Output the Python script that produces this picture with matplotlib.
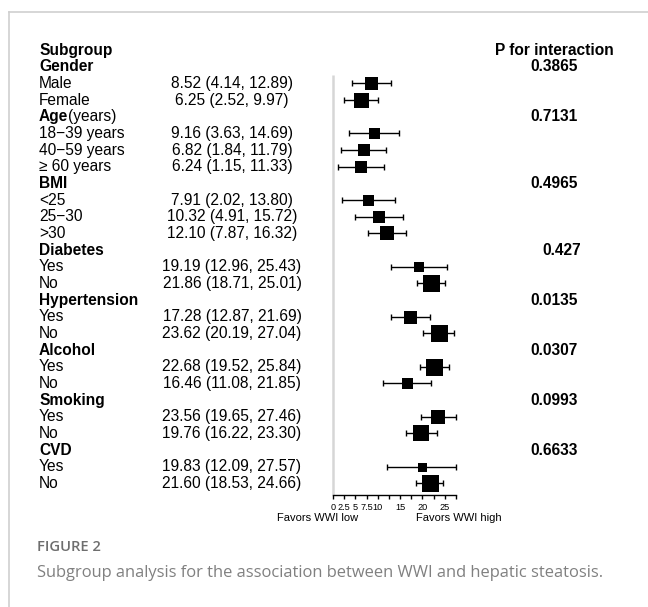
import matplotlib
matplotlib.use("Agg")
import matplotlib.pyplot as plt
import matplotlib.transforms as mtransforms
from matplotlib.lines import Line2D

# ---- data -------------------------------------------------------------
groups = ["Gender", "Age", "BMI", "Diabetes", "Hypertension", "Alcohol", "Smoking", "CVD"]
group_suffix = ["", "(years)", "", "", "", "", "", ""]
p_interaction = ["0.3865", "0.7131", "0.4965", "0.427", "0.0135", "0.0307", "0.0993", "0.6633"]

subgroups = [
    ["Male", "Female"],
    ["18\u221239 years", "40\u221259 years", "\u2265 60 years"],
    ["<25", "25\u221230", ">30"],
    ["Yes", "No"],
    ["Yes", "No"],
    ["Yes", "No"],
    ["Yes", "No"],
    ["Yes", "No"],
]
estimate = [
    [8.52, 6.25],
    [9.16, 6.82, 6.24],
    [7.91, 10.32, 12.10],
    [19.19, 21.86],
    [17.28, 23.62],
    [22.68, 16.46],
    [23.56, 19.76],
    [19.83, 21.60],
]
lower = [
    [4.14, 2.52],
    [3.63, 1.84, 1.15],
    [2.02, 4.91, 7.87],
    [12.96, 18.71],
    [12.87, 20.19],
    [19.52, 11.08],
    [19.65, 16.22],
    [12.09, 18.53],
]
upper = [
    [12.89, 9.97],
    [14.69, 11.79, 11.33],
    [13.80, 15.72, 16.32],
    [25.43, 25.01],
    [21.69, 27.04],
    [25.84, 21.85],
    [27.46, 23.30],
    [27.57, 24.66],
]
# relative box weights
weight = [
    [13, 15],
    [11, 12, 12],
    [11, 12, 14],
    [10, 17],
    [13, 17],
    [17, 11],
    [14, 16],
    [9, 17],
]
tick_values = [0, 2.5, 5, 7.5, 10, 12.5, 15, 17.5, 20, 22.5, 25, 27.5]
tick_labels = ["0", "2.5", "5", "7.5", "10", "", "15", "", "20", "", "25", ""]

# ---- layout -----------------------------------------------------------
W, H = 648, 607
DPI = 100
FONT = ["Liberation Sans", "DejaVu Sans"]
fig = plt.figure(figsize=(W / DPI, H / DPI), dpi=DPI)
fig.patch.set_facecolor("white")

row0_px, step_px = 50.0, 16.67     # y of header row, spacing between rows
axis_px = 495.0                     # y of x-axis line
x0_px, x1_px = 333.0, 456.0         # x range of plot panel

top_r = -0.5
bot_r = (axis_px - row0_px) / step_px
top_px = row0_px + top_r * step_px
ax = fig.add_axes([x0_px / W, 1 - axis_px / H, (x1_px - x0_px) / W, (axis_px - top_px) / H])
ax.set_xlim(0, 27.5)
ax.set_ylim(bot_r, top_r)
for s in ("top", "right", "left"):
    ax.spines[s].set_visible(False)
ax.spines["bottom"].set_linewidth(1.0)
ax.set_yticks([])
ax.set_xticks(tick_values)
ax.set_xticklabels(tick_labels, fontsize=6.6, family=FONT)
ax.tick_params(axis="x", direction="out", length=3.2, width=1.0, pad=2.5)
ax.patch.set_alpha(0)

tx = mtransforms.blended_transform_factory(fig.transFigure, ax.transData)

def put(xpx, r, s, **kw):
    kw.setdefault("family", FONT)
    kw.setdefault("fontsize", 11.2)
    kw.setdefault("va", "center")
    return fig.text(xpx / W, r, s, transform=tx, **kw)

label_x, value_x, p_x = 39, 232, 554

put(label_x, 0, "Subgroup", fontweight="bold")
put(p_x, 0, "P for interaction", fontweight="bold", ha="center")

# reference line at zero
ax.vlines(0, 1.5, bot_r, color="#d6d6d6", lw=1.8, zorder=0, clip_on=False)

renderer = fig.canvas.get_renderer()
r = 1
for g, suf, pv, subs, est, lo, hi, wt in zip(groups, group_suffix, p_interaction,
                                             subgroups, estimate, lower, upper, weight):
    t = put(label_x, r, g, fontweight="bold")
    if suf:
        bb = t.get_window_extent(renderer=renderer)
        put(bb.x1, r, suf)
    put(p_x + (8 if len(pv) < 6 else 0), r, pv, fontweight="bold", ha="center")
    r += 1
    for name, e, l, h, w in zip(subs, est, lo, hi, wt):
        put(label_x, r, name)
        put(value_x, r, f"{e:.2f} ({l:.2f}, {h:.2f})", ha="center")
        ax.errorbar(e, r, xerr=[[e - l], [h - e]], fmt="none", ecolor="black",
                    elinewidth=1.0, capsize=2.0, capthick=1.0, clip_on=False, zorder=2)
        ax.plot(e, r, marker="s", markersize=w * 0.72, color="black",
                markeredgewidth=0, clip_on=False, zorder=3)
        r += 1

put_y = axis_px + 23
fig.text(318 / W, 1 - put_y / H, "Favors WWI low", family=FONT, fontsize=8,
         ha="center", va="center")
fig.text(459 / W, 1 - put_y / H, "Favors WWI high", family=FONT, fontsize=8,
         ha="center", va="center")

# ---- frame and caption ------------------------------------------------
frame_c = "#cfcfcf"
fig.add_artist(Line2D([9 / W, 1], [1 - 12 / H, 1 - 12 / H], transform=fig.transFigure,
                      color=frame_c, lw=1.2))
fig.add_artist(Line2D([9 / W, 9 / W], [1 - 12 / H, 0], transform=fig.transFigure,
                      color=frame_c, lw=1.2))
CAP = ["Open Sans", "DejaVu Sans"]
fig.text(37 / W, 1 - 547 / H, "FIGURE 2", family=CAP, fontsize=10.6, color="#6e6e6e",
         va="center", fontweight="semibold")
fig.text(37 / W, 1 - 573 / H,
         "Subgroup analysis for the association between WWI and hepatic steatosis.",
         family=CAP, fontsize=11.9, color="#808080", va="center")

fig.savefig("out.png", dpi=DPI)
